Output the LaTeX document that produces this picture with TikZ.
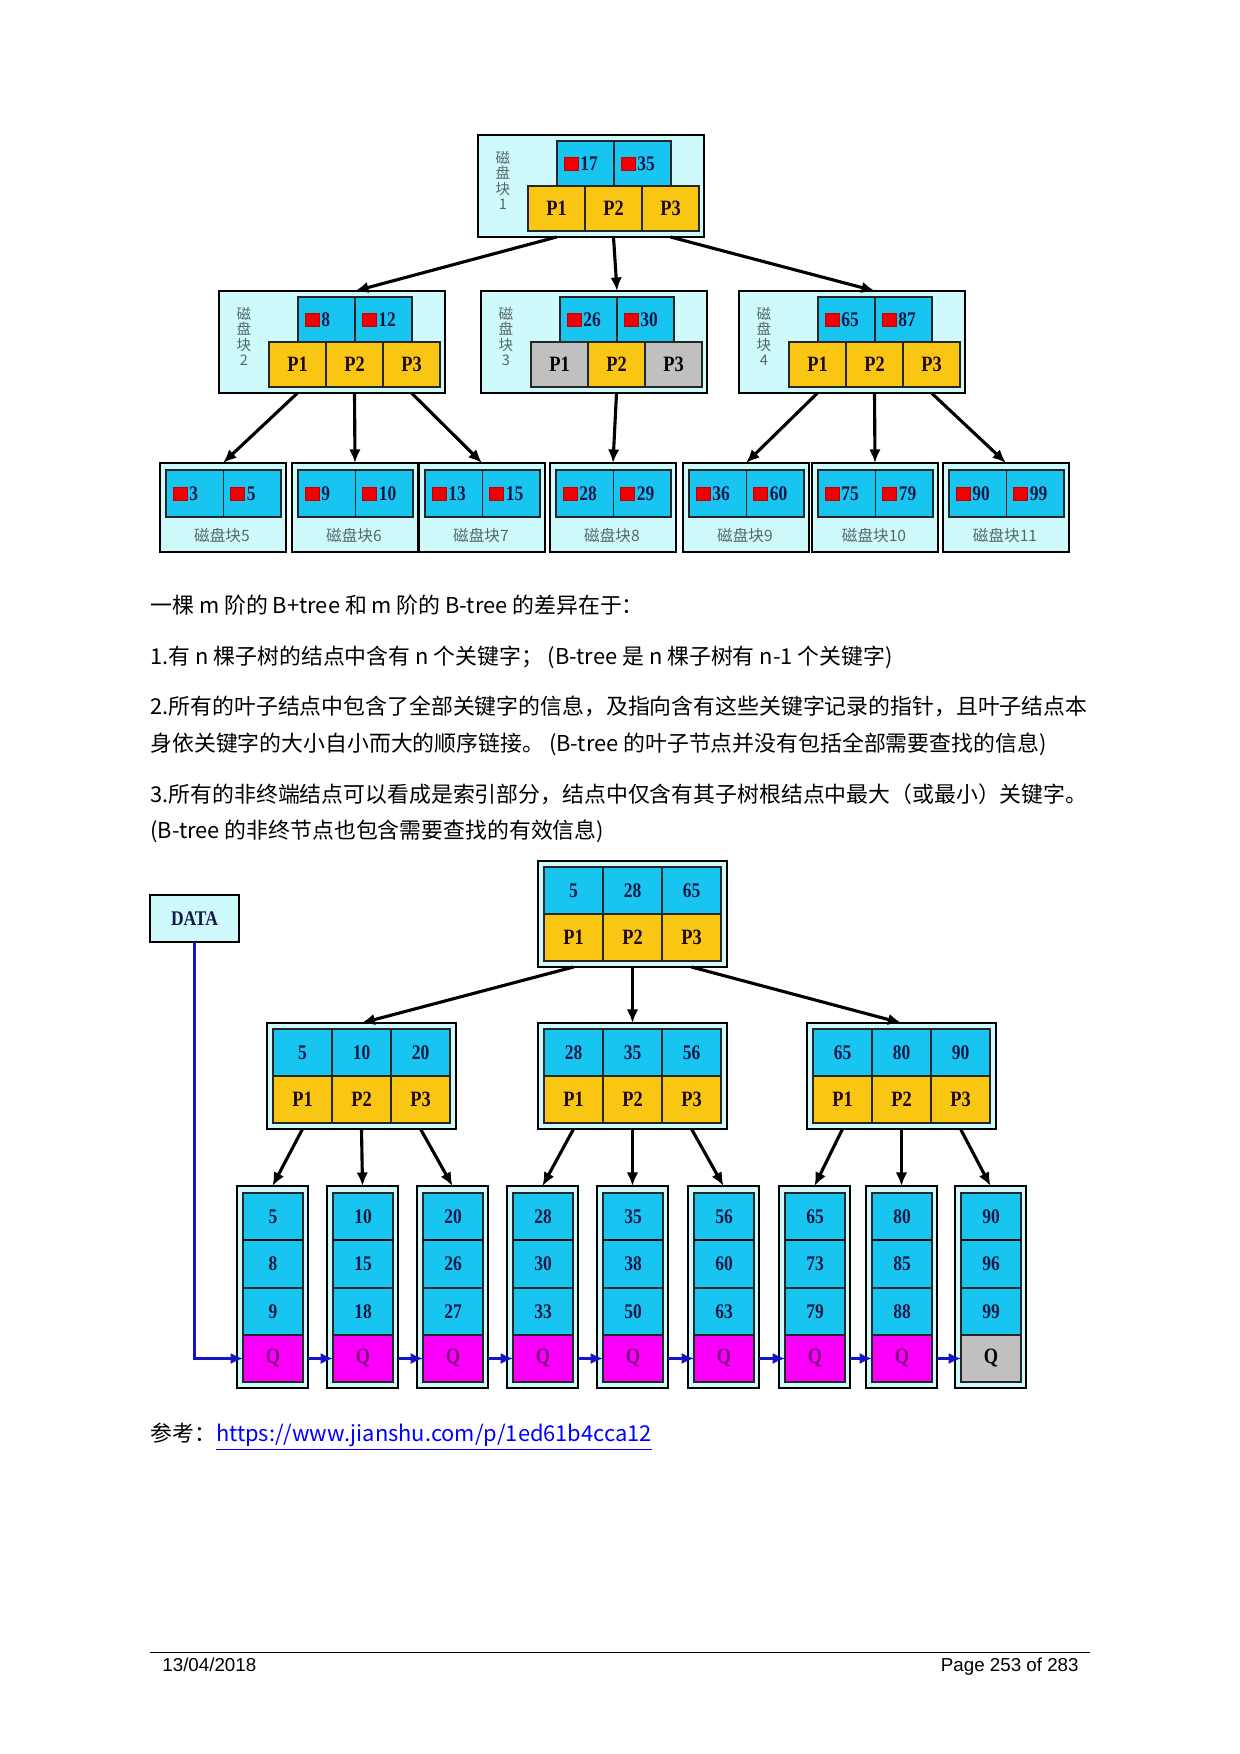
\documentclass[tikz,border=0pt]{standalone}
\usepackage{fontspec}
\usetikzlibrary{arrows.meta}
\setmainfont{Liberation Serif}
\newfontfamily\cjk{Noto Sans CJK SC}
\newfontfamily\cellfont{Liberation Serif}[FakeStretch=0.84]
\newfontfamily\footfont{Liberation Sans}

\definecolor{framebg}{RGB}{207,250,252}
\definecolor{keybg}{RGB}{24,196,240}
\definecolor{pbg}{RGB}{250,198,20}
\definecolor{greybg}{RGB}{192,192,192}
\definecolor{qbg}{RGB}{250,0,250}
\definecolor{keyred}{RGB}{240,0,0}
\definecolor{numink}{RGB}{20,24,70}
\definecolor{pinkink}{RGB}{30,10,25}
\definecolor{qink}{RGB}{128,0,128}
\definecolor{diskink}{RGB}{85,105,105}
\definecolor{chainblue}{RGB}{20,20,200}
\definecolor{linkblue}{RGB}{0,0,255}

% one drawing unit = one pixel of a 150 dpi A4 page
\newcommand{\pxu}{0.48pt}

\tikzset{
  wh/.style 2 args={minimum width=#1*\pxu, minimum height=#2*\pxu},
  frame/.style={draw=black, fill=framebg, line width=0.9pt, inner sep=0pt, outer sep=0pt, anchor=north west},
  cell/.style={draw=black!85, line width=0.6pt, inner sep=0pt, outer sep=0pt, anchor=north west,
    font=\cellfont\bfseries\fontsize{10.5}{11}\selectfont},
  keycell/.style={cell, fill=keybg, text=numink, font=\cellfont\bfseries\fontsize{10}{11}\selectfont},
  pcell/.style={cell, fill=pbg, text=pinkink},
  greycell/.style={cell, fill=greybg, text=black},
  qcell/.style={cell, fill=qbg, text=qink},
  redsq/.style={fill=keyred, draw=red!75!black, line width=0.3pt, inner sep=0pt, wh={14}{13}},
  keynum/.style={inner sep=0.8pt, anchor=west, text=numink, font=\cellfont\bfseries\fontsize{10}{11}\selectfont},
  disklabel/.style={anchor=north, inner sep=0pt, align=center, text=diskink,
    font=\cjk\fontsize{7}{7.3}\selectfont},
  leaflabel/.style={inner sep=0pt, text=diskink, font=\cjk\fontsize{7.5}{8}\selectfont},
  treearrow/.style={line width=1.5pt, black, -{Latex[length=6.5pt,width=5.5pt]}},
  chain/.style={line width=1.4pt, chainblue, -{Latex[length=6pt,width=5.5pt]}},
  bodytext/.style={anchor=base west, inner sep=0pt, font=\cjk\fontsize{10.5}{12}\selectfont},
  foot/.style={inner sep=0pt, font=\footfont\fontsize{9}{10}\selectfont},
}

% red marker plus key value inside a key cell
\newcommand{\redkey}[2]{%
  \node[redsq] (#1sq) at ([xshift=14*\pxu]#1.west) {};
  \node[keynum] (#1num) at (#1sq.east) {#2};
}

% disk block of the B-tree: name, x, y, block number, key1, key2, styles of P1..P3
\newcommand{\topnode}[9]{%
  \node[frame, wh={226}{102}] (#1) at (#2,#3) {};
  \node[#7, wh={57}{45}] (#1p1) at (#2+50,#3+51) {P1};
  \node[#8, wh={57}{45}] (#1p2) at (#2+107,#3+51) {P2};
  \node[#9, wh={57}{45}] (#1p3) at (#2+164,#3+51) {P3};
  \node[keycell, wh={57}{45}] (#1k1) at (#2+79,#3+6) {};
  \node[keycell, wh={57}{45}] (#1k2) at (#2+136,#3+6) {};
  \redkey{#1k1}{#5}
  \redkey{#1k2}{#6}
  \node[disklabel] (#1lab) at (#2+25,#3+16) {磁\\盘\\块\\#4};
}

% leaf disk block of the B-tree: name, x, key1, key2, caption
\newcommand{\topleaf}[5]{%
  \node[frame, wh={126}{89}] (#1) at (#2,463) {};
  \node[keycell, wh={57.5}{47}] (#1k1) at (#2+6,470) {};
  \node[keycell, wh={57.5}{47}] (#1k2) at (#2+63.5,470) {};
  \redkey{#1k1}{#3}
  \redkey{#1k2}{#4}
  \node[leaflabel] (#1lab) at (#2+62,535) {#5};
}

% inner node of the B+tree: name, x, y, three keys
\newcommand{\bnode}[6]{%
  \node[frame, wh={189}{106}] (#1) at (#2,#3) {};
  \node[keycell, wh={59}{47}] (#1k1) at (#2+6,#3+6) {#4};
  \node[keycell, wh={59}{47}] (#1k2) at (#2+65,#3+6) {#5};
  \node[keycell, wh={59}{47}] (#1k3) at (#2+124,#3+6) {#6};
  \node[pcell, wh={59}{47}] (#1p1) at (#2+6,#3+53) {P1};
  \node[pcell, wh={59}{47}] (#1p2) at (#2+65,#3+53) {P2};
  \node[pcell, wh={59}{47}] (#1p3) at (#2+124,#3+53) {P3};
}

% leaf of the B+tree: name, x, three keys, style of the Q cell
\newcommand{\bleaf}[6]{%
  \node[frame, wh={71}{202}] (#1) at (#2,1186) {};
  \node[keycell, wh={60}{47}] (#1a) at (#2+6,1193) {#3};
  \node[keycell, wh={60}{48}] (#1b) at (#2+6,1240) {#4};
  \node[keycell, wh={60}{47}] (#1c) at (#2+6,1288) {#5};
  \node[#6, wh={60}{47}] (#1q) at (#2+6,1335) {Q};
  \draw[line width=1.4pt] (#1a.south west) -- (#1a.south east);
}

\begin{document}
\begin{tikzpicture}[x=0.48pt, y=-0.48pt]
\fill[white] (0,0) rectangle (1240,1754);
\useasboundingbox (0,0) rectangle (1240,1754);

% ---------- B-tree ----------
\topnode{root}{478}{135}{1}{17}{35}{pcell}{pcell}{pcell}
\topnode{nb}{219}{291}{2}{8}{12}{pcell}{pcell}{pcell}
\topnode{nc}{481}{291}{3}{26}{30}{greycell}{pcell}{greycell}
\topnode{nd}{739}{291}{4}{65}{87}{pcell}{pcell}{pcell}

\topleaf{la}{160}{3}{5}{磁盘块5}
\topleaf{lb}{292}{9}{10}{磁盘块6}
\topleaf{lc}{419}{13}{15}{磁盘块7}
\topleaf{ld}{550}{28}{29}{磁盘块8}
\topleaf{le}{683}{36}{60}{磁盘块9}
\topleaf{lf}{812}{75}{79}{磁盘块10}
\topleaf{lg}{943}{90}{99}{磁盘块11}

\draw[treearrow] (rootp1 |- root.south) -- (nbk1.east |- nb.north);
\draw[treearrow] (rootp2 |- root.south) -- (nck1.east |- nc.north);
\draw[treearrow] (rootp3 |- root.south) -- (ndk1.east |- nd.north);
\draw[treearrow] (nbp1 |- nb.south) -- (la.north);
\draw[treearrow] (nbp2 |- nb.south) -- (lb.north);
\draw[treearrow] (nbp3 |- nb.south) -- (lc.north);
\draw[treearrow] (ncp2 |- nc.south) -- (ld.north);
\draw[treearrow] (ndp1 |- nd.south) -- (le.north);
\draw[treearrow] (ndp2 |- nd.south) -- (lf.north);
\draw[treearrow] (ndp3 |- nd.south) -- (lg.north);

% ---------- text ----------
\node[bodytext] (t1) at (150,613) {一棵 m 阶的 B+tree 和 m 阶的 B-tree 的差异在于：};
\node[bodytext] (t2) at (150,664) {1.有 n 棵子树的结点中含有 n 个关键字； (B-tree 是 n 棵子树有 n-1 个关键字)};
\node[bodytext] (t3) at (150,714) {2.所有的叶子结点中包含了全部关键字的信息，及指向含有这些关键字记录的指针，且叶子结点本};
\node[bodytext] (t4) at (150,751) {身依关键字的大小自小而大的顺序链接。 (B-tree 的叶子节点并没有包括全部需要查找的信息)};
\node[bodytext] (t5) at (150,802) {3.所有的非终端结点可以看成是索引部分，结点中仅含有其子树根结点中最大（或最小）关键字。};
\node[bodytext] (t6) at (150,838) {(B-tree 的非终节点也包含需要查找的有效信息)};

% ---------- B+tree ----------
\node[frame, wh={89}{47}, font=\cellfont\bfseries\fontsize{10}{11}\selectfont, text=numink] (data) at (150,895) {DATA};

\bnode{broot}{538}{861}{5}{28}{65}
\bnode{bl}{267}{1023}{5}{10}{20}
\bnode{bm}{538}{1023}{28}{35}{56}
\bnode{br}{807}{1023}{65}{80}{90}

\bleaf{qa}{237}{5}{8}{9}{qcell}
\bleaf{qb}{327}{10}{15}{18}{qcell}
\bleaf{qc}{417}{20}{26}{27}{qcell}
\bleaf{qd}{507}{28}{30}{33}{qcell}
\bleaf{qe}{597}{35}{38}{50}{qcell}
\bleaf{qf}{688}{56}{60}{63}{qcell}
\bleaf{qg}{779}{65}{73}{79}{qcell}
\bleaf{qh}{866}{80}{85}{88}{qcell}
\bleaf{qi}{955}{90}{96}{99}{greycell}

\draw[treearrow] (brootp1 |- broot.south) -- (bl.north);
\draw[treearrow] (brootp2 |- broot.south) -- (bm.north);
\draw[treearrow] (brootp3 |- broot.south) -- (br.north);
\draw[treearrow] (blp1 |- bl.south) -- (qa.north);
\draw[treearrow] (blp2 |- bl.south) -- (qb.north);
\draw[treearrow] (blp3 |- bl.south) -- (qc.north);
\draw[treearrow] (bmp1 |- bm.south) -- (qd.north);
\draw[treearrow] (bmp2 |- bm.south) -- (qe.north);
\draw[treearrow] (bmp3 |- bm.south) -- (qf.north);
\draw[treearrow] (brp1 |- br.south) -- (qg.north);
\draw[treearrow] (brp2 |- br.south) -- (qh.north);
\draw[treearrow] (brp3 |- br.south) -- (qi.north);

% sequential links between the leaves
\draw[chain] (data.south) -- (data.south |- qaq.west) -- (qaq.west);
\draw[chain] (qa.east |- qaq.center) -- (qbq.west);
\draw[chain] (qb.east |- qbq.center) -- (qcq.west);
\draw[chain] (qc.east |- qcq.center) -- (qdq.west);
\draw[chain] (qd.east |- qdq.center) -- (qeq.west);
\draw[chain] (qe.east |- qeq.center) -- (qfq.west);
\draw[chain] (qf.east |- qfq.center) -- (qgq.west);
\draw[chain] (qg.east |- qgq.center) -- (qhq.west);
\draw[chain] (qh.east |- qhq.center) -- (qiq.west);

% ---------- reference and footer ----------
\node[bodytext] (ref) at (150,1441) {参考：\textcolor{linkblue}{\underline{https://www.jianshu.com/p/1ed61b4cca12}}};

\draw[line width=0.5pt] (150,1652) -- (1090,1652);
\node[foot, anchor=base west] (date) at (162,1671) {13/04/2018};
\node[foot, anchor=base east] (page) at (1079,1671) {Page 253 of 283};
\end{tikzpicture}
\end{document}
